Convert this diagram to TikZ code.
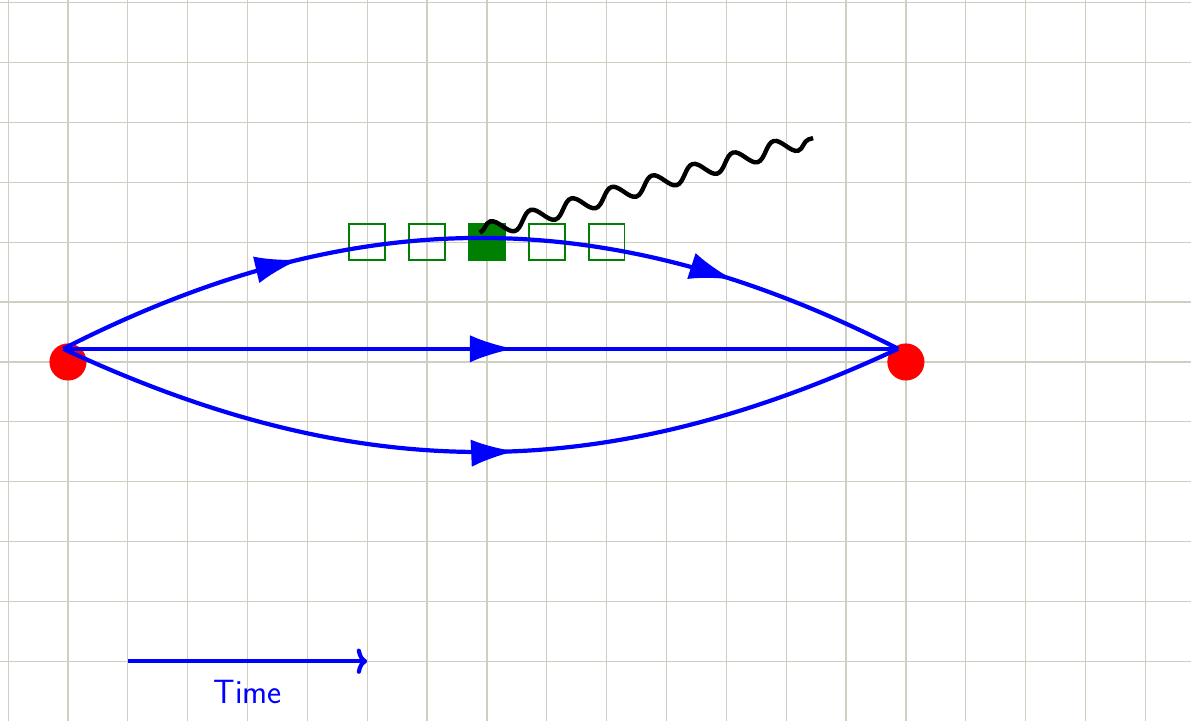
\documentclass[tikz,border=0pt]{standalone}
\usetikzlibrary{arrows.meta,decorations.markings,decorations.pathmorphing}
\definecolor{gridc}{RGB}{208,206,192}
\tikzset{
  gridline/.style={draw=gridc,line width=0.6pt},
  reddot/.style={circle,fill=red,minimum size=0.62cm,inner sep=0pt},
  sq/.style={draw=green!50!black,line width=0.8pt,minimum size=0.6cm,inner sep=0pt},
  sqfill/.style={sq,fill=green!50!black},
  prop/.style={draw=blue,line width=2pt},
  mid/.style={postaction={decorate},decoration={markings,
     mark=at position #1 with {\arrow{Latex[length=21pt,width=13pt]}}}},
  twoarr/.style 2 args={postaction={decorate},decoration={markings,
     mark=at position #1 with {\arrow{Latex[length=21pt,width=13pt]}},
     mark=at position #2 with {\arrow{Latex[length=21pt,width=13pt]}}}},
  wavy/.style={draw=black,line width=2.1pt,decorate,
     decoration={snake,amplitude=3.8pt,segment length=20pt}},
  timearrow/.style={draw=blue,line width=2pt,-{To[length=5pt,width=12pt]}},
  timelabel/.style={text=blue,font=\sffamily\fontsize{16}{19}\selectfont,anchor=base}
}
\begin{document}
\begin{tikzpicture}
\useasboundingbox (-1.136,-5.998) rectangle (18.764,6.048);
\fill[white] (-1.136,-5.998) rectangle (18.764,6.048);
\draw[gridline] (-1.136,-5.998) grid (18.764,6.048);
% green squares
\node[sq] (s1) at (5,2) {};
\node[sq] (s2) at (6,2) {};
\node[sqfill] (s3) at (7,2) {};
\node[sq] (s4) at (8,2) {};
\node[sq] (s5) at (9,2) {};
% red vertices
\node[reddot] (A) at (0,0) {};
\node[reddot] (B) at (14,0) {};
\coordinate (L) at (-0.08,0.22);
\coordinate (R) at (13.87,0.22);
% propagators
\draw[prop,twoarr={0.29}{0.795}] (L) to[bend left=27] (R);
\draw[prop,mid=0.54] (L) -- (R);
\draw[prop,mid=0.54] (L) to[bend right=25] (R);
% photon
\coordinate (P0) at (6.88,2.16);
\coordinate (P1) at (12.45,3.74);
\draw[wavy] (P0) -- (P1);
% time arrow
\coordinate (T0) at (1,-5);
\coordinate (T1) at (5,-5);
\draw[timearrow] (T0) -- (T1);
\node[timelabel] (time) at (3,-5.70) {Time};
\end{tikzpicture}
\end{document}
